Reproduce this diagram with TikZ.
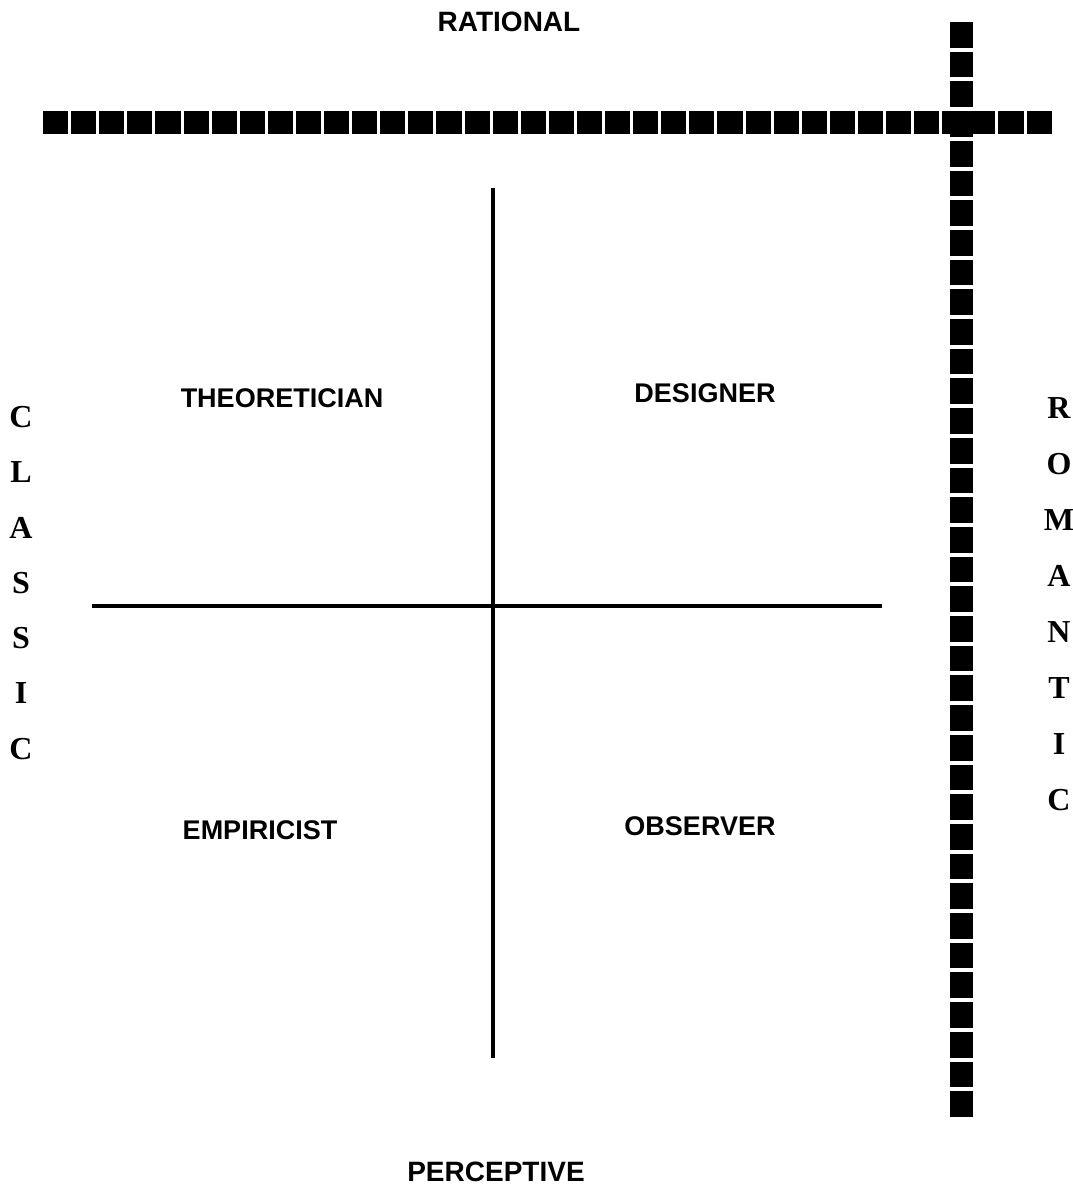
\documentclass[tikz,border=0pt]{standalone}
\usepackage{fontspec}
\setmainfont{Liberation Sans}
\newfontfamily\slabfont{Liberation Serif}
\begin{document}
\begin{tikzpicture}[x=1pt,y=-1pt,
  quad/.style={font=\bfseries\fontsize{27}{29}\selectfont},
  axisname/.style={font=\bfseries\fontsize{28}{30}\selectfont},
  side/.style={font=\slabfont\bfseries\fontsize{32}{34}\selectfont},
  bar/.style={line width=23pt},
  split/.style={line width=3.5pt}]
\useasboundingbox (0,0) rectangle (1073,1195);

% Axis names
\node[axisname] (rat) at (509,22) {RATIONAL};
\node[axisname] (per) at (496,1172) {PERCEPTIVE};

% Quadrant names
\node[quad] (theo) at (282,398) {THEORETICIAN};
\node[quad] (des) at (705,393) {DESIGNER};
\node[quad] (emp) at (260,830) {EMPIRICIST};
\node[quad] (obs) at (700,826) {OBSERVER};

% Side names, one letter per row
\foreach \ch [count=\i] in {C,L,A,S,S,I,C}
  \node[side] (cl\i) at (21,{417+55.3*(\i-1)}) {\ch};
\foreach \ch [count=\i] in {R,O,M,A,N,T,I,C}
  \node[side] (ro\i) at (1059,{408+56*(\i-1)}) {\ch};

%--------------------------------------------------
% Heavy bars
%--------------------------------------------------
\coordinate (hl) at (43,122);
\coordinate (hr) at (1052,122);
\draw[bar, dash pattern=on 25.1pt off 3pt] (hl) -- (hr);

\coordinate (vt) at (961,22);
\coordinate (vb) at (961,1118);
\draw[bar, dash pattern=on 25.7pt off 4pt] (vt) -- (vb);

%--------------------------------------------------
% Inner cross
%--------------------------------------------------
\coordinate (ct) at (493,188);
\coordinate (cb) at (493,1058);
\draw[split] (ct) -- (cb);

\coordinate (cl) at (92,606);
\coordinate (cr) at (882,606);
\draw[split] (cl) -- (cr);

\end{tikzpicture}
\end{document}
